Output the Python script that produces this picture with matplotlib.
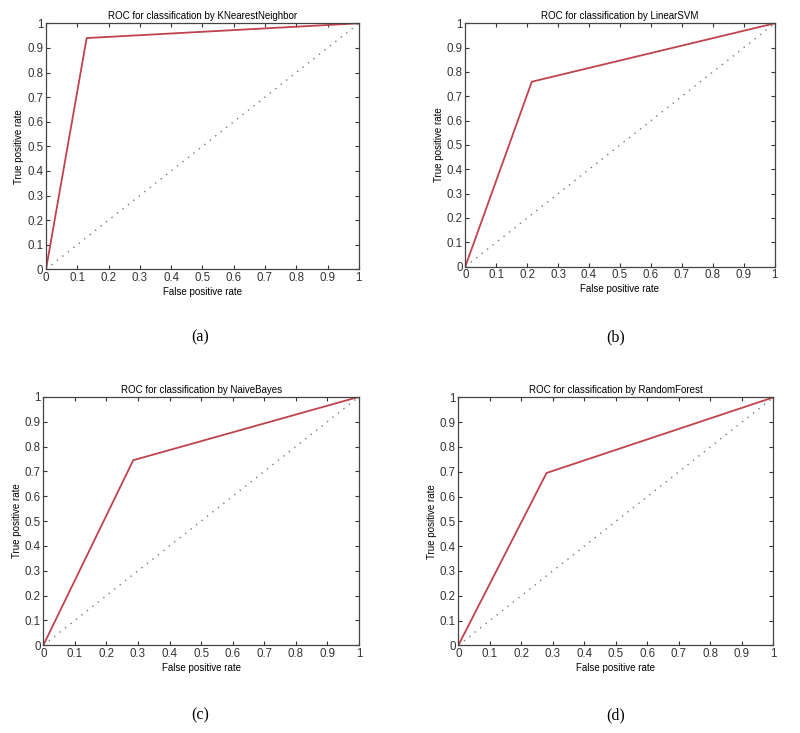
import numpy as np
import matplotlib
matplotlib.use('Agg')
import matplotlib.pyplot as plt

# ROC points (false positive rate, true positive rate) per classifier
names = ['KNearestNeighbor', 'LinearSVM', 'NaiveBayes', 'RandomForest']
fpr = [[0, 0.13, 1.0], [0, 0.215, 1.0], [0, 0.285, 1.0], [0, 0.28, 1.0]]
tpr = [[0, 0.94, 1.0], [0, 0.76, 1.0], [0, 0.745, 1.0], [0, 0.695, 1.0]]
panel_labels = ['(a)', '(b)', '(c)', '(d)']
ticks = [0, 0.1, 0.2, 0.3, 0.4, 0.5, 0.6, 0.7, 0.8, 0.9, 1]
tick_labels = ['0', '0.1', '0.2', '0.3', '0.4', '0.5', '0.6', '0.7', '0.8', '0.9', '1']

plt.rcParams['font.family'] = ['Liberation Sans', 'DejaVu Sans']

fig = plt.figure(figsize=(8, 7.33), dpi=100)

boxes = [[0.0575, 0.6326, 0.391, 0.3356],
         [0.5816, 0.6362, 0.3868, 0.332],
         [0.0541, 0.1196, 0.3946, 0.339],
         [0.5729, 0.1196, 0.3938, 0.3383]]
label_pos = [(0.25, 0.54), (0.769, 0.54), (0.25, 0.024), (0.769, 0.024)]

for i in range(4):
    ax = fig.add_axes(boxes[i])
    ax.plot(fpr[i], tpr[i], color='#c0424e', lw=1.3)
    ax.plot([0, 1], [0, 1], color='#707888', lw=1.0, linestyle=(0, (1, 4)))
    ax.set_xlim(0, 1)
    ax.set_ylim(0, 1)
    ax.set_xticks(ticks)
    ax.set_yticks(ticks)
    ax.set_xticklabels(tick_labels)
    ax.set_yticklabels(tick_labels)
    ax.tick_params(direction='in', top=True, right=True, length=3, width=0.8,
                   labelsize=8.3, pad=2, colors='#333333')
    for s in ax.spines.values():
        s.set_color('#444444')
        s.set_linewidth(0.9)
    ax.set_title('ROC for classification by ' + names[i], fontsize=7, pad=3)
    ax.set_xlabel('False positive rate', fontsize=7, labelpad=2)
    ax.set_ylabel('True positive rate', fontsize=7, labelpad=2)
    fig.text(label_pos[i][0], label_pos[i][1], panel_labels[i], ha='center', va='center',
             fontsize=11.5, family='Liberation Serif')

plt.savefig('out.png', dpi=100)
